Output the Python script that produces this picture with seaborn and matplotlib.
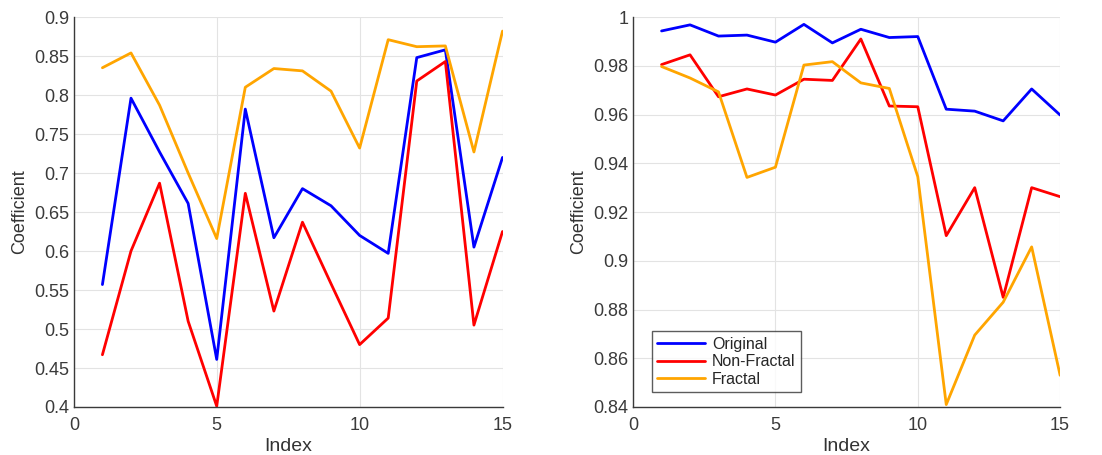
import pandas as pd
import matplotlib.pyplot as plt
import seaborn as sns

# Dados
index = list(range(1, 16))
series_names = ['Original', 'Non-Fractal', 'Fractal']
colors = {'Original': '#0000ff', 'Non-Fractal': '#ff0000', 'Fractal': '#ffa500'}

left_original = [0.557, 0.796, 0.727, 0.661, 0.461, 0.782, 0.617, 0.680, 0.658, 0.620, 0.597, 0.848, 0.858, 0.605, 0.720]
left_nonfractal = [0.467, 0.600, 0.687, 0.510, 0.401, 0.674, 0.523, 0.637, 0.558, 0.480, 0.514, 0.818, 0.843, 0.505, 0.625]
left_fractal = [0.835, 0.854, 0.787, 0.700, 0.616, 0.810, 0.834, 0.831, 0.805, 0.732, 0.871, 0.862, 0.863, 0.727, 0.882]

right_original = [0.9943, 0.9968, 0.9922, 0.9926, 0.9897, 0.9970, 0.9894, 0.9950, 0.9916, 0.9920, 0.9622, 0.9614, 0.9574, 0.9705, 0.9598]
right_nonfractal = [0.9805, 0.9845, 0.9673, 0.9705, 0.9680, 0.9745, 0.9740, 0.9910, 0.9635, 0.9632, 0.9103, 0.9300, 0.8850, 0.9300, 0.9263]
right_fractal = [0.9797, 0.9750, 0.9693, 0.9342, 0.9384, 0.9803, 0.9817, 0.9730, 0.9707, 0.9345, 0.8410, 0.8695, 0.8830, 0.9057, 0.8530]


def to_long(orig, nonfrac, frac):
    frames = []
    for name, vals in zip(series_names, [orig, nonfrac, frac]):
        frames.append(pd.DataFrame({'Index': index, 'Coefficient': vals, 'Series': name}))
    return pd.concat(frames, ignore_index=True)


df_left = to_long(left_original, left_nonfractal, left_fractal)
df_right = to_long(right_original, right_nonfractal, right_fractal)

sns.set_style('white')
plt.rcParams['font.family'] = ['Liberation Sans', 'DejaVu Sans']

fig = plt.figure(figsize=(11.02, 4.55), dpi=100)
ax1 = fig.add_axes([0.067, 0.1055, 0.389, 0.857])
ax2 = fig.add_axes([0.5745, 0.1055, 0.3875, 0.857])


def style_axis(ax, ylim, yticks, ylabels):
    ax.set_xlim(0, 15)
    ax.set_ylim(*ylim)
    ax.set_xticks([0, 5, 10, 15])
    ax.set_yticks(yticks)
    ax.set_yticklabels(ylabels)
    ax.grid(True, color='#e3e3e3', linewidth=0.8)
    ax.set_axisbelow(True)
    for side in ['top', 'right']:
        ax.spines[side].set_visible(False)
    for side in ['left', 'bottom']:
        ax.spines[side].set_color('#3a3a3a')
        ax.spines[side].set_linewidth(1.0)
    ax.tick_params(axis='both', labelsize=13, colors='#3a3a3a', length=3, direction='in')
    ax.tick_params(axis='x', pad=7)
    ax.set_xlabel('Index', fontsize=14, color='#333333', labelpad=3)
    ax.set_ylabel('Coefficient', fontsize=13, color='#333333', labelpad=4)


sns.lineplot(data=df_left, x='Index', y='Coefficient', hue='Series', palette=colors,
             linewidth=2, ax=ax1, legend=False)
style_axis(ax1, (0.4, 0.9),
           [0.4, 0.45, 0.5, 0.55, 0.6, 0.65, 0.7, 0.75, 0.8, 0.85, 0.9],
           ['0.4', '0.45', '0.5', '0.55', '0.6', '0.65', '0.7', '0.75', '0.8', '0.85', '0.9'])

sns.lineplot(data=df_right, x='Index', y='Coefficient', hue='Series', palette=colors,
             linewidth=2, ax=ax2)
style_axis(ax2, (0.84, 1.0),
           [0.84, 0.86, 0.88, 0.9, 0.92, 0.94, 0.96, 0.98, 1.0],
           ['0.84', '0.86', '0.88', '0.9', '0.92', '0.94', '0.96', '0.98', '1'])

leg = ax2.legend(title=None, loc='lower left', bbox_to_anchor=(0.044, 0.038),
                 borderaxespad=0, fontsize=11.5, frameon=True, fancybox=False,
                 handlelength=3.0, handletextpad=0.4, borderpad=0.35, labelspacing=0.15)
leg.get_frame().set_edgecolor('#333333')
leg.get_frame().set_linewidth(1.0)

fig.savefig('out.png', dpi=100)
